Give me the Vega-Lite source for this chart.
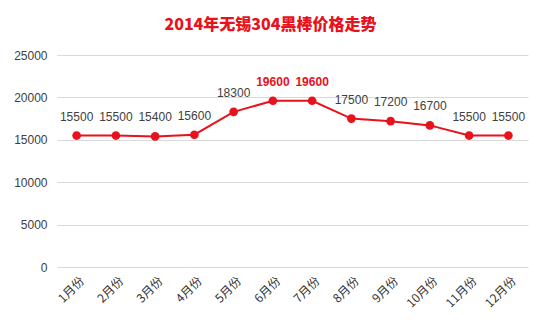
{
  "$schema": "https://vega.github.io/schema/vega-lite/v6.json",
  "autosize": "none",
  "width": 471,
  "height": 212,
  "padding": {"left": 57, "top": 55, "right": 22, "bottom": 64},
  "background": "white",
  "title": {
    "text": "2014年无锡304黑棒价格走势",
    "font": "Noto Sans CJK SC",
    "fontSize": 16,
    "fontWeight": 900,
    "color": "#e8111c",
    "anchor": "middle",
    "offset": 16,
    "dx": -22
  },
  "data": {
    "values": [
      {"month": "1月份", "price": 15500, "hl": false},
      {"month": "2月份", "price": 15500, "hl": false},
      {"month": "3月份", "price": 15400, "hl": false},
      {"month": "4月份", "price": 15600, "hl": false},
      {"month": "5月份", "price": 18300, "hl": false},
      {"month": "6月份", "price": 19600, "hl": true},
      {"month": "7月份", "price": 19600, "hl": true},
      {"month": "8月份", "price": 17500, "hl": false},
      {"month": "9月份", "price": 17200, "hl": false},
      {"month": "10月份", "price": 16700, "hl": false},
      {"month": "11月份", "price": 15500, "hl": false},
      {"month": "12月份", "price": 15500, "hl": false}
    ]
  },
  "encoding": {
    "x": {
      "field": "month", "type": "ordinal", "sort": null,
      "scale": {"type": "band", "paddingInner": 0, "paddingOuter": 0},
      "axis": {
        "title": null, "labelAngle": -45, "labelAlign": "right", "labelBaseline": "top",
        "domain": false, "ticks": false, "grid": false, "labelPadding": 8,
        "labelFont": "Noto Sans CJK SC", "labelFontSize": 12, "labelColor": "#333333", "labelOffset": 2
      }
    },
    "y": {
      "field": "price", "type": "quantitative",
      "scale": {"domain": [0, 25000]},
      "axis": {
        "title": null, "values": [0, 5000, 10000, 15000, 20000, 25000], "format": "d",
        "domain": false, "ticks": false, "labelPadding": 10,
        "labelFont": "Liberation Sans", "labelFontSize": 12, "labelColor": "#404040",
        "gridColor": "#d9d9d9", "gridWidth": 1
      }
    }
  },
  "layer": [
    {"mark": {"type": "line", "color": "#e8111c", "strokeWidth": 2}},
    {"mark": {"type": "point", "filled": true, "color": "#e8111c", "size": 75, "opacity": 1}},
    {
      "transform": [{"filter": "!datum.hl"}],
      "mark": {"type": "text", "dy": -19, "font": "Liberation Sans", "fontSize": 12, "color": "#404040"},
      "encoding": {"text": {"field": "price", "type": "quantitative", "format": "d"}}
    },
    {
      "transform": [{"filter": "datum.hl"}],
      "mark": {"type": "text", "dy": -19, "font": "Liberation Sans", "fontSize": 12, "fontWeight": "bold", "color": "#e8111c"},
      "encoding": {"text": {"field": "price", "type": "quantitative", "format": "d"}}
    }
  ],
  "config": {"view": {"stroke": null}}
}
